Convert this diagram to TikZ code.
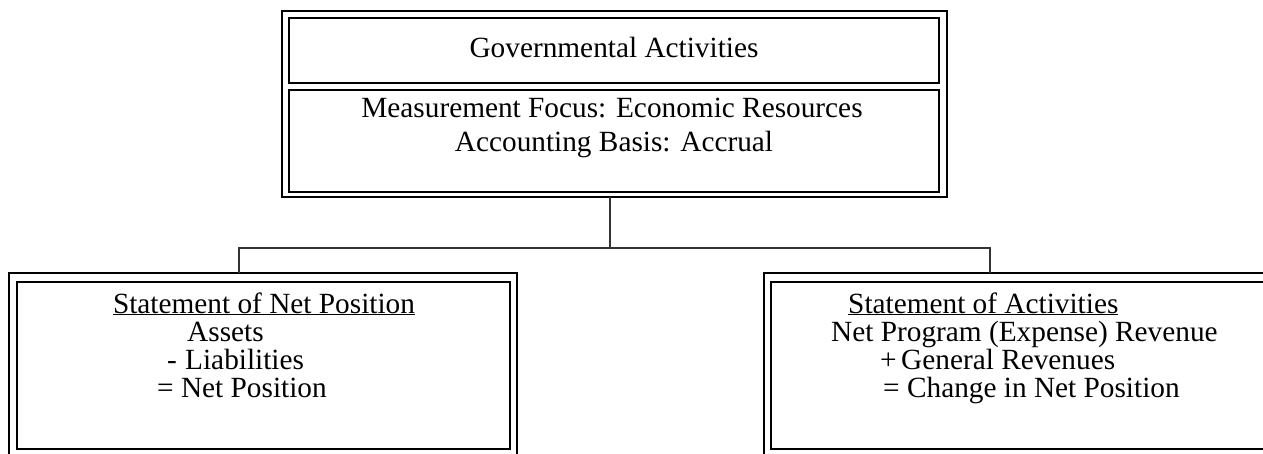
\documentclass[tikz,border=0pt]{standalone}
\usepackage{fontspec}
\setmainfont{Liberation Serif}
\begin{document}
\begin{tikzpicture}[x=1pt,y=-1pt,
  outerln/.style={draw, line width=2pt, inner sep=0pt, outer sep=0pt, anchor=north west},
  innerln/.style={draw, line width=2.6pt, inner sep=0pt, outer sep=0pt, anchor=north west},
  conn/.style={draw=black!80, line width=1.1pt},
  txt/.style={font=\fontsize{29.3}{33.7}\selectfont, inner sep=0pt, anchor=base west},
  ctxt/.style={font=\fontsize{29.3}{33.7}\selectfont, inner sep=0pt, anchor=base}]
\useasboundingbox (0,0) rectangle (1263,453);
\clip (0,0) rectangle (1263,453);
% top box
\node[outerln, minimum width=665pt, minimum height=186pt] (top) at (282,11) {};
\node[innerln, minimum width=650pt, minimum height=65pt] (row1) at (289,18) {};
\node[innerln, minimum width=650pt, minimum height=102pt] (row2) at (289,90) {};
% bottom boxes
\node[outerln, minimum width=508pt, minimum height=182pt] (lout) at (9,273) {};
\node[innerln, minimum width=493pt, minimum height=167pt] (lin) at (17,282) {};
\node[outerln, minimum width=510pt, minimum height=182pt] (rout) at (764,273) {};
\node[innerln, minimum width=496pt, minimum height=167pt] (rin) at (771,282) {};
% connectors
\coordinate (jc) at (610,248);
\coordinate (jl) at (239,248);
\coordinate (jr) at (990,248);
\draw[conn] (jc |- top.south) -- (jc);
\draw[conn] (jl |- lout.north) -- (jl) -- (jr) -- (jr |- rout.north);
% texts
\node[ctxt] (gov) at (614,57) {Governmental Activities};
\node[ctxt] (mf) at (612,117) {Measurement Focus: Economic Resources};
\node[ctxt] (ab) at (614,151) {Accounting Basis: Accrual};
\node[ctxt] (snp) at (264,313) {\underline{Statement of Net Position}};
\node[txt] (as) at (187,341) {Assets};
\node[txt] (mi) at (167,369) {-};
\node[txt] (li) at (185,369) {Liabilities};
\node[txt] (np) at (157,397) {= Net Position};
\node[txt] (soa) at (848,313) {\underline{Statement of Activities}};
\node[txt] (npr) at (831,341) {Net Program (Expense) Revenue};
\node[txt] (pl) at (880,369) {+};
\node[txt] (gr) at (901,369) {General Revenues};
\node[txt] (cnp) at (883,397) {= Change in Net Position};
\end{tikzpicture}
\end{document}
